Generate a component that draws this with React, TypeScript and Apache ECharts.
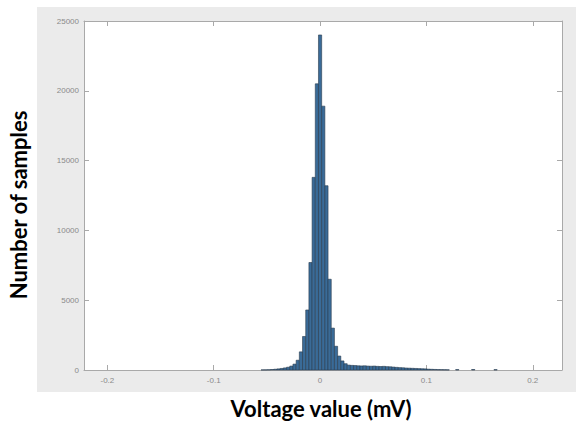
import React, { useEffect, useRef } from "react";
import * as echarts from "echarts";

const binWidth = 0.003;
const binCenters = [
  -0.054, -0.051, -0.048, -0.045, -0.042, -0.039, -0.036, -0.033, -0.03, -0.027,
  -0.024, -0.021, -0.018, -0.015, -0.012, -0.009, -0.006, -0.003, 0, 0.003,
  0.006, 0.009, 0.012, 0.015, 0.018, 0.021, 0.024, 0.027, 0.03, 0.033,
  0.036, 0.039, 0.042, 0.045, 0.048, 0.051, 0.054, 0.057, 0.06, 0.063,
  0.066, 0.069, 0.072, 0.075, 0.078, 0.081, 0.084, 0.087, 0.09, 0.093,
  0.096, 0.099, 0.102, 0.105, 0.108, 0.111, 0.114, 0.117, 0.12, 0.129,
  0.144, 0.165,
];
const counts = [
  8, 12, 20, 35, 55, 80, 110, 150, 200, 280,
  420, 700, 1300, 2400, 4300, 7700, 13800, 20500, 24000, 18900,
  13200, 6500, 3000, 1700, 1000, 650, 450, 350, 330, 320,
  300, 290, 300, 280, 270, 280, 260, 250, 260, 240,
  230, 210, 190, 170, 160, 140, 130, 120, 110, 100,
  90, 80, 60, 50, 40, 30, 25, 20, 15, 30,
  35, 25,
];
const xTicks = [-0.2, -0.1, 0, 0.1, 0.2];
const yTicks = [0, 5000, 10000, 15000, 20000, 25000];

const xTitle = "Voltage value (mV)";
const yTitle = "Number of samples";

export default function App() {
  const ref = useRef<HTMLDivElement>(null);
  useEffect(() => {
    if (!ref.current) return;
    const chart = echarts.init(ref.current, null, { renderer: "svg" });
    const data = binCenters.map((c, i) => [c - binWidth / 2, c + binWidth / 2, counts[i]]);
    const axisColor = "#a9a9a9";
    const labelColor = "#8a8a8a";
    const xBase = {
      type: "value" as const,
      min: -0.222,
      max: 0.2275,
      splitLine: { show: false },
      axisLine: { show: true, onZero: false, lineStyle: { color: axisColor, width: 1 } },
      axisTick: { show: true, inside: true, length: 5, customValues: xTicks, lineStyle: { color: axisColor } },
    };
    const yBase = {
      type: "value" as const,
      min: yTicks[0],
      max: yTicks[yTicks.length - 1],
      interval: 5000,
      splitLine: { show: false },
      axisLine: { show: true, onZero: false, lineStyle: { color: axisColor, width: 1 } },
      axisTick: { show: true, inside: true, length: 5, lineStyle: { color: axisColor } },
    };
    chart.setOption({
      animation: false,
      grid: {
        left: 84,
        right: 14,
        top: 21,
        bottom: 53,
        show: true,
        backgroundColor: "#ffffff",
        borderWidth: 0,
      },
      graphic: [
        {
          type: "rect",
          z: -10,
          shape: { x: 37, y: 7, width: 539, height: 385 },
          style: { fill: "#ebebeb" },
        },
        {
          type: "text",
          x: 321,
          y: 408,
          style: {
            text: xTitle,
            font: "bold 22px Lato, 'Open Sans', sans-serif",
            fill: "#000",
            align: "center",
            verticalAlign: "middle",
          },
        },
        {
          type: "text",
          x: 18,
          y: 205,
          rotation: Math.PI / 2,
          style: {
            text: yTitle,
            font: "bold 22px Lato, 'Open Sans', sans-serif",
            fill: "#000",
            align: "center",
            verticalAlign: "middle",
          },
        },
      ],
      xAxis: [
        {
          ...xBase,
          position: "bottom",
          axisLabel: {
            customValues: xTicks,
            fontSize: 8,
            color: labelColor,
            margin: 6,
            fontFamily: "Liberation Sans, Arial, sans-serif",
            formatter: (v: number) => String(v),
          },
        },
        {
          ...xBase,
          position: "top",
          axisLabel: { show: false },
        },
      ],
      yAxis: [
        {
          ...yBase,
          position: "left",
          axisLabel: {
            fontSize: 8,
            color: labelColor,
            margin: 5,
            fontFamily: "Liberation Sans, Arial, sans-serif",
            formatter: (v: number) => String(v),
          },
        },
        {
          ...yBase,
          position: "right",
          axisLabel: { show: false },
        },
      ],
      series: [
        {
          type: "custom",
          xAxisIndex: 0,
          yAxisIndex: 0,
          encode: { x: [0, 1], y: 2 },
          data,
          renderItem: (params: any, api: any) => {
            const p0 = api.coord([api.value(0), api.value(2)]);
            const p1 = api.coord([api.value(1), 0]);
            return {
              type: "rect",
              shape: { x: p0[0], y: p0[1], width: p1[0] - p0[0], height: p1[1] - p0[1] },
              style: { fill: "#3a6b98", stroke: "#283a4e", lineWidth: 0.6 },
            };
          },
        },
      ],
    });
    return () => chart.dispose();
  }, []);
  return (
    <div
      ref={ref}
      style={{ position: "absolute", left: 0, top: 0, width: 576, height: 423 }}
    />
  );
}
